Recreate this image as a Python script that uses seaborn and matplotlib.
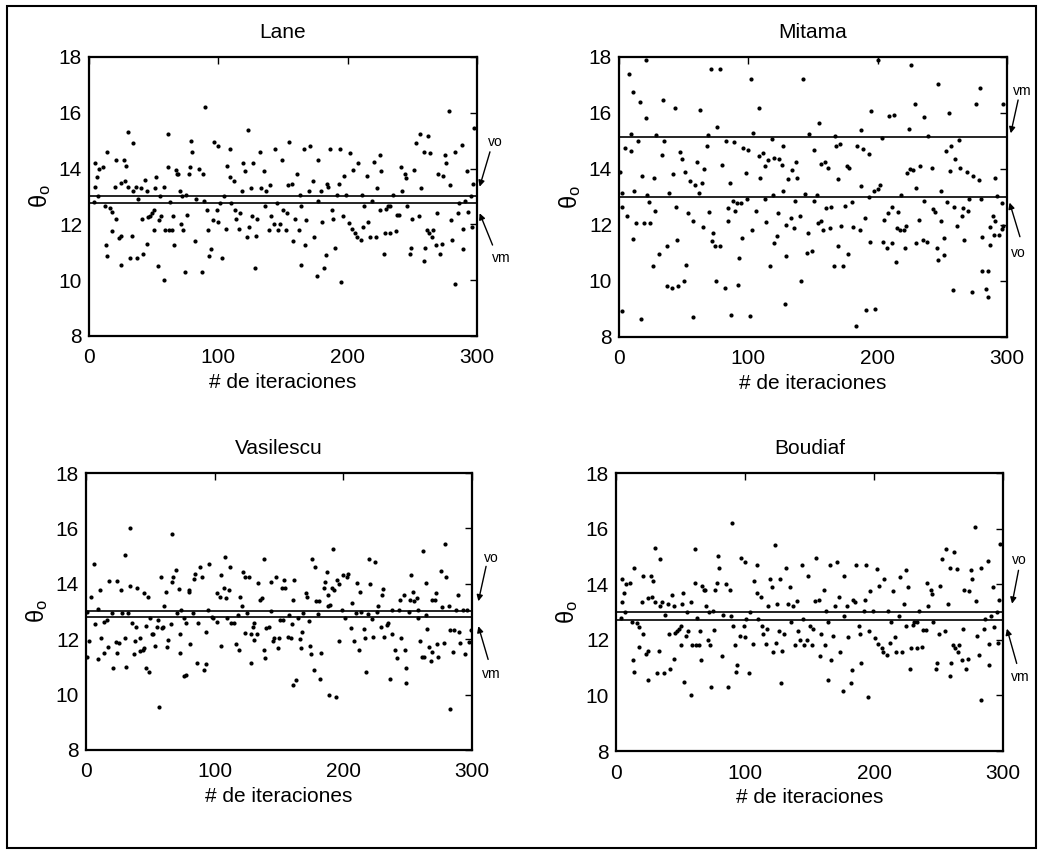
import matplotlib
matplotlib.use("Agg")
import matplotlib.pyplot as plt
from matplotlib.patches import Rectangle
import seaborn as sns
import pandas as pd

# ---------------------------------------------------------------------------
# Data: estimated angle theta_o at each iteration for every method
# ---------------------------------------------------------------------------
lane_iter = [
    5, 6, 5, 4, 7, 8, 11, 12, 13, 14,
    14, 16, 18, 18, 20, 21, 21, 23, 25, 25,
    25, 27, 28, 29, 30, 30, 32, 33, 34, 34,
    36, 37, 38, 40, 41, 42, 43, 45, 45, 46,
    47, 49, 50, 50, 51, 52, 53, 54, 55, 56,
    58, 58, 59, 61, 61, 62, 63, 64, 65, 66,
    67, 68, 69, 70, 71, 72, 73, 74, 75, 76,
    77, 78, 79, 80, 82, 83, 85, 87, 88, 89,
    90, 91, 92, 93, 94, 96, 97, 99, 100, 100,
    101, 103, 104, 106, 107, 109, 109, 110, 112, 113,
    114, 116, 117, 118, 119, 121, 122, 123, 124, 125,
    126, 127, 128, 129, 130, 132, 133, 135, 136, 137,
    139, 140, 141, 143, 144, 145, 146, 148, 149, 150,
    152, 153, 154, 155, 157, 158, 159, 161, 162, 163,
    164, 164, 166, 167, 168, 170, 171, 173, 174, 176,
    177, 177, 179, 180, 182, 183, 184, 185, 186, 188,
    189, 190, 192, 193, 194, 195, 196, 197, 199, 201,
    202, 203, 204, 206, 207, 208, 210, 211, 212, 213,
    215, 216, 217, 219, 220, 222, 223, 225, 225, 226,
    228, 229, 230, 231, 233, 233, 235, 237, 238, 240,
    241, 242, 244, 245, 246, 248, 249, 250, 251, 253,
    255, 256, 257, 259, 259, 260, 261, 262, 263, 264,
    265, 266, 268, 269, 270, 271, 273, 274, 275, 276,
    278, 279, 280, 281, 283, 283, 285, 286, 288, 289,
    289, 291, 292, 293, 295, 296, 297, 298,
]
lane_theta = [
    14.2, 13.7, 13.35, 12.8, 13.0, 14.0, 14.05, 12.65, 11.26, 14.6,
    10.85, 12.6, 12.45, 11.75, 13.35, 12.2, 14.3, 11.5, 11.6, 13.5,
    10.55, 14.3, 13.55, 14.1, 15.3, 13.35, 10.8, 11.6, 14.9, 13.2,
    13.35, 10.8, 12.9, 13.3, 12.2, 10.95, 13.6, 13.2, 11.3, 12.25,
    12.3, 12.4, 12.5, 11.8, 13.3, 13.7, 10.5, 12.15, 13.0, 12.3,
    10.0, 13.35, 11.8, 15.25, 14.05, 11.8, 12.8, 11.8, 12.3, 11.26,
    13.95, 13.8, 13.8, 13.2, 12.0, 13.0, 11.8, 10.3, 13.05, 12.35,
    13.8, 14.05, 15.0, 14.6, 11.4, 12.9, 14.0, 10.3, 13.8, 12.85,
    16.2, 12.5, 11.8, 10.85, 11.1, 12.15, 14.95, 12.5, 14.8, 12.1,
    12.75, 10.8, 13.0, 11.85, 14.1, 14.7, 13.7, 12.75, 13.55, 12.5,
    12.2, 11.85, 12.4, 13.2, 14.2, 13.9, 11.55, 15.4, 11.9, 13.3,
    12.3, 14.2, 10.45, 11.6, 12.2, 14.6, 13.3, 13.9, 12.65, 13.2,
    11.8, 13.4, 12.3, 12.0, 14.7, 12.75, 11.8, 12.0, 14.3, 12.5,
    11.8, 12.4, 13.4, 14.95, 13.45, 11.4, 12.2, 13.8, 11.8, 13.05,
    10.55, 12.65, 14.7, 11.26, 12.15, 13.2, 14.8, 13.55, 11.55, 10.15,
    14.3, 12.85, 13.2, 12.1, 10.45, 10.9, 13.45, 13.35, 14.7, 12.5,
    12.2, 11.15, 13.05, 13.45, 14.7, 9.95, 12.3, 13.75, 13.05, 12.05,
    14.55, 11.85, 13.95, 11.7, 11.55, 14.2, 11.45, 13.05, 11.9, 12.65,
    13.75, 12.1, 11.55, 12.85, 14.25, 11.55, 13.3, 14.5, 12.5, 13.9,
    10.95, 11.7, 12.55, 12.65, 12.65, 11.7, 13.05, 11.75, 12.35, 12.35,
    14.05, 13.2, 13.8, 13.65, 12.65, 10.95, 11.15, 12.2, 13.95, 14.9,
    12.3, 15.25, 13.3, 10.7, 14.6, 11.15, 11.8, 15.15, 11.7, 14.55,
    11.55, 11.8, 11.26, 12.4, 13.8, 10.95, 11.3, 13.75, 14.5, 14.2,
    16.05, 13.4, 12.15, 11.45, 14.6, 9.85, 12.4, 12.75, 14.85, 11.85,
    11.1, 12.85, 13.9, 12.45, 13.0, 11.9, 13.45, 15.45,
]

mitama_iter = [
    2, 2, 2, 1, 5, 6, 8, 9, 9, 11,
    11, 12, 13, 15, 16, 17, 18, 19, 21, 21,
    22, 23, 24, 26, 27, 28, 29, 31, 33, 34,
    35, 37, 37, 39, 41, 42, 43, 44, 45, 46,
    47, 49, 50, 51, 52, 53, 55, 57, 57, 59,
    60, 62, 63, 64, 65, 66, 68, 69, 70, 71,
    72, 73, 74, 75, 76, 78, 78, 80, 82, 83,
    84, 84, 86, 87, 88, 89, 90, 91, 92, 93,
    94, 95, 96, 98, 99, 100, 101, 102, 103, 104,
    106, 108, 108, 109, 111, 113, 113, 114, 115, 117,
    118, 119, 120, 120, 122, 123, 124, 126, 127, 127,
    128, 129, 129, 131, 133, 134, 135, 136, 137, 138,
    140, 141, 142, 144, 145, 146, 147, 149, 151, 151,
    153, 154, 155, 156, 156, 158, 159, 160, 162, 163,
    164, 166, 167, 168, 169, 169, 171, 172, 173, 175,
    176, 177, 178, 180, 181, 183, 184, 186, 187, 187,
    189, 190, 191, 193, 193, 194, 195, 197, 198, 200,
    200, 202, 203, 204, 205, 207, 208, 209, 211, 211,
    213, 214, 215, 216, 217, 218, 220, 221, 222, 223,
    224, 225, 226, 227, 229, 230, 230, 232, 233, 235,
    236, 236, 238, 239, 242, 243, 244, 246, 247, 247,
    249, 249, 251, 251, 253, 254, 255, 256, 257, 258,
    259, 260, 261, 263, 264, 265, 266, 267, 269, 270,
    271, 273, 274, 276, 278, 279, 280, 281, 281, 284,
    285, 285, 287, 287, 289, 290, 291, 291, 292, 294,
    296, 296, 297, 297,
]
mitama_theta = [
    13.13, 12.65, 8.9, 13.87, 14.74, 12.3, 17.4, 15.25, 14.62, 16.73,
    11.5, 13.2, 12.05, 15.0, 16.4, 8.62, 13.75, 12.05, 15.8, 17.9,
    13.07, 12.8, 12.05, 10.53, 13.67, 12.5, 15.22, 10.96, 14.5, 16.45,
    14.98, 11.25, 9.8, 13.13, 9.73, 13.8, 16.17, 12.65, 11.44, 9.81,
    14.59, 14.35, 9.97, 13.87, 10.57, 12.41, 13.55, 12.12, 8.69, 13.43,
    14.24, 13.15, 16.1, 13.49, 11.91, 14.0, 14.8, 15.22, 12.44, 17.58,
    11.4, 11.7, 11.22, 9.97, 15.5, 11.22, 17.58, 14.15, 9.73, 15.0,
    12.6, 12.12, 13.49, 8.78, 12.83, 14.95, 12.5, 12.77, 9.85, 10.8,
    12.77, 11.52, 14.74, 13.85, 12.92, 14.66, 8.74, 17.22, 11.82, 15.28,
    12.5, 14.44, 16.17, 13.67, 14.56, 12.92, 14.09, 12.08, 14.32, 10.53,
    15.06, 13.07, 14.38, 11.34, 11.58, 12.41, 14.35, 14.15, 13.19, 14.8,
    9.17, 12.0, 10.89, 13.63, 12.24, 13.97, 11.88, 12.83, 14.23, 13.67,
    12.32, 10.0, 17.22, 13.1, 10.99, 11.7, 15.26, 11.06, 14.66, 12.83,
    13.07, 12.06, 15.64, 14.18, 12.12, 11.82, 14.23, 12.6, 14.03, 11.88,
    12.65, 10.53, 15.18, 14.83, 11.25, 13.63, 14.9, 11.94, 10.53, 12.68,
    14.11, 10.96, 14.03, 12.8, 11.91, 8.36, 14.8, 11.82, 15.37, 13.37,
    14.7, 12.24, 8.95, 14.54, 13.0, 11.37, 16.05, 13.19, 9.0, 13.27,
    17.88, 13.43, 15.1, 11.37, 12.18, 11.18, 12.41, 15.9, 11.34, 12.65,
    15.94, 10.68, 11.88, 12.47, 11.8, 13.07, 11.82, 11.18, 11.94, 13.85,
    15.42, 13.99, 17.73, 13.97, 16.33, 13.31, 11.34, 12.15, 14.11, 11.46,
    12.83, 15.85, 11.37, 15.18, 14.03, 12.56, 12.47, 11.15, 17.05, 10.74,
    13.19, 12.12, 10.92, 11.52, 14.62, 12.8, 16.0, 13.91, 14.8, 9.67,
    12.65, 14.35, 11.96, 15.02, 14.03, 12.32, 12.6, 11.44, 13.87, 12.5,
    12.92, 9.58, 13.75, 16.33, 13.6, 16.89, 12.92, 11.56, 10.33, 9.69,
    10.36, 9.43, 11.91, 11.28, 12.32, 11.64, 13.67, 12.12, 13.04, 11.64,
    11.84, 12.77, 16.33, 11.94,
]

vasil_iter = [
    1, 1, 2, 4, 6, 7, 9, 9, 11, 12,
    14, 14, 16, 17, 18, 20, 21, 23, 24, 24,
    26, 27, 28, 30, 30, 31, 33, 34, 34, 36,
    37, 38, 39, 40, 42, 42, 44, 45, 45, 47,
    47, 48, 49, 50, 51, 52, 54, 55, 56, 57,
    58, 59, 60, 61, 62, 63, 64, 66, 67, 67,
    68, 70, 71, 72, 73, 73, 74, 76, 76, 78,
    78, 80, 80, 81, 83, 84, 85, 86, 87, 89,
    90, 92, 93, 93, 95, 96, 98, 99, 102, 102,
    104, 105, 105, 107, 108, 109, 110, 111, 112, 113,
    115, 117, 118, 119, 120, 121, 122, 124, 124, 125,
    127, 128, 128, 130, 131, 131, 133, 134, 135, 137,
    138, 138, 139, 140, 142, 144, 144, 145, 146, 148,
    149, 150, 151, 152, 153, 154, 155, 157, 158, 159,
    160, 161, 161, 162, 163, 165, 166, 167, 168, 169,
    171, 172, 173, 174, 175, 176, 177, 178, 179, 180,
    181, 182, 183, 185, 186, 187, 188, 188, 189, 190,
    191, 192, 193, 194, 195, 197, 197, 199, 200, 201,
    203, 204, 206, 207, 208, 210, 211, 212, 213, 214,
    216, 217, 218, 219, 220, 221, 222, 223, 225, 226,
    227, 229, 230, 231, 232, 234, 235, 236, 238, 238,
    240, 242, 243, 244, 245, 247, 248, 249, 249, 251,
    252, 253, 254, 255, 257, 258, 258, 260, 261, 262,
    263, 264, 264, 265, 267, 268, 269, 269, 271, 272,
    273, 274, 276, 277, 278, 279, 280, 282, 283, 283,
    285, 286, 288, 289, 290, 291, 293, 295, 296, 298,
    299,
]
vasil_theta = [
    12.99, 11.37, 11.94, 13.53, 14.73, 12.54, 13.1, 11.27, 13.77, 12.06,
    12.63, 11.51, 12.69, 11.73, 14.1, 12.95, 10.95, 11.91, 14.1, 11.49,
    11.87, 13.77, 12.95, 12.06, 15.03, 10.98, 12.95, 16.03, 13.91, 12.57,
    11.46, 11.94, 12.45, 13.84, 11.58, 12.06, 11.61, 13.65, 11.67, 12.47,
    10.95, 13.53, 10.82, 12.75, 12.2, 12.2, 11.75, 12.45, 12.69, 9.54,
    14.25, 12.39, 12.45, 13.19, 13.71, 11.73, 11.97, 12.54, 14.07, 15.81,
    14.25, 14.51, 12.95, 13.83, 12.18, 11.51, 13.05, 12.75, 10.67, 10.7,
    12.57, 13.71, 13.79, 11.82, 12.93, 14.19, 14.37, 11.15, 12.57, 14.59,
    14.25, 10.88, 12.27, 11.1, 13.05, 14.73, 12.81, 12.75, 12.63, 13.65,
    13.53, 14.31, 11.75, 13.86, 14.97, 13.47, 12.78, 13.77, 14.61, 12.57,
    12.59, 11.82, 12.87, 11.61, 13.53, 13.19, 14.43, 12.23, 14.25, 12.95,
    14.25, 12.18, 11.15, 12.45, 12.59, 11.97, 12.2, 14.03, 13.41, 13.47,
    11.61, 14.91, 11.31, 12.42, 12.45, 14.07, 13.02, 11.94, 12.03, 14.25,
    11.67, 12.06, 12.69, 13.86, 12.69, 14.12, 13.86, 12.08, 12.87, 12.03,
    12.54, 13.41, 10.34, 14.12, 10.52, 12.75, 12.0, 11.7, 12.27, 12.95,
    13.67, 13.53, 12.66, 11.75, 11.46, 14.91, 10.88, 14.61, 13.38, 12.9,
    13.38, 10.58, 11.51, 13.86, 14.07, 14.43, 13.59, 13.19, 9.98, 13.23,
    13.86, 15.27, 13.79, 9.92, 14.15, 11.94, 14.0, 13.05, 14.31, 12.75,
    14.25, 14.37, 12.42, 13.29, 11.94, 12.95, 14.03, 11.61, 13.71, 12.99,
    12.35, 12.03, 10.82, 12.9, 14.91, 14.0, 12.72, 12.08, 14.79, 12.99,
    13.19, 12.45, 13.59, 13.83, 12.08, 12.51, 12.59, 10.58, 12.2, 13.05,
    11.61, 11.31, 13.07, 13.41, 12.03, 13.59, 11.61, 10.95, 10.43, 12.99,
    13.41, 14.31, 13.71, 13.38, 13.47, 13.05, 12.75, 11.94, 11.37, 15.19,
    11.34, 12.87, 14.03, 12.35, 11.73, 11.22, 13.41, 11.55, 13.41, 13.65,
    11.82, 11.37, 14.46, 13.17, 11.87, 15.45, 14.25, 13.19, 12.33, 9.47,
    11.55, 12.33, 13.05, 13.59, 12.27, 11.87, 13.05, 11.46, 13.07, 11.91,
    12.33,
]

# Boudiaf produces the same sequence as Lane
boudiaf_iter = list(lane_iter)
boudiaf_theta = list(lane_theta)

methods = ["Lane", "Mitama", "Vasilescu", "Boudiaf"]
iterations = [lane_iter, mitama_iter, vasil_iter, boudiaf_iter]
thetas = [lane_theta, mitama_theta, vasil_theta, boudiaf_theta]

# reference levels drawn as horizontal lines (vo, vm)
vo_levels = [13.0, 13.0, 13.0, 13.0]
vm_levels = [12.75, 15.12, 12.8, 12.73]

# ---------------------------------------------------------------------------
# Style
# ---------------------------------------------------------------------------
sns.set_style("white")
plt.rcParams["font.family"] = ["Liberation Sans", "DejaVu Sans"]
plt.rcParams["text.color"] = "black"
plt.rcParams["axes.labelcolor"] = "black"
plt.rcParams["xtick.color"] = "black"
plt.rcParams["ytick.color"] = "black"

fig = plt.figure(figsize=(10.42, 8.58), dpi=100)

axes_rects = [
    [0.0854, 0.6084, 0.3724, 0.3252],
    [0.5940, 0.6078, 0.3724, 0.3258],
    [0.0825, 0.1259, 0.3704, 0.3228],
    [0.5912, 0.1247, 0.3714, 0.3240],
]

# label/arrow placement for the vo / vm callouts: (text xy, arrow start, arrow tip)
callouts = [
    {"vo": ((314, 14.95), (310, 14.6), (302, 13.35)),
     "vm": ((319, 10.8), (312, 11.26), (302, 12.4))},
    {"vm": ((312, 16.8), (308.6, 16.46), (302.9, 15.27)),
     "vo": ((308.6, 11.0), (310, 11.57), (302, 12.79))},
    {"vo": ((315, 14.93), (311, 14.63), (305, 13.37)),
     "vm": ((315, 10.73), (312.6, 11.27), (305, 12.47))},
    {"vo": ((313, 14.87), (312, 14.5), (307, 13.3)),
     "vm": ((313, 10.67), (310.6, 11.15), (303, 12.4))},
]

for name, its, th, vo, vm, rect, co in zip(
        methods, iterations, thetas, vo_levels, vm_levels, axes_rects, callouts):
    ax = fig.add_axes(rect)
    df = pd.DataFrame({"iteracion": its, "theta": th})
    sns.scatterplot(data=df, x="iteracion", y="theta", ax=ax, color="black",
                    s=9, marker="o", linewidth=0, legend=False)
    ax.axhline(vo, color="black", lw=1.2)
    ax.axhline(vm, color="black", lw=1.2)

    ax.set_xlim(0, 300)
    ax.set_ylim(8, 18)
    ax.set_xticks([0, 100, 200, 300])
    ax.set_yticks([8, 10, 12, 14, 16, 18])
    ax.tick_params(direction="in", top=True, right=True, length=5, width=1,
                   labelsize=15, colors="black")
    ax.tick_params(axis="x", pad=9)
    ax.tick_params(axis="y", pad=5)
    for sp in ax.spines.values():
        sp.set_linewidth(1.6)
        sp.set_color("black")

    ax.set_title(name, fontsize=15, pad=14, color="black")
    ax.set_xlabel("# de iteraciones", fontsize=15, labelpad=4, color="black")
    ax.set_ylabel(r"$\mathregular{θ_o}$", fontsize=17, labelpad=4,
                  color="black")

    for key, (txt_xy, start, tip) in co.items():
        ax.text(txt_xy[0], txt_xy[1], key, fontsize=10, ha="center",
                va="center", clip_on=False, color="black")
        ax.annotate("", xy=tip, xytext=start, annotation_clip=False,
                    arrowprops=dict(arrowstyle="-|>", color="black", lw=1.0,
                                    mutation_scale=9, shrinkA=0, shrinkB=0))

# page frame around the whole figure
fig.add_artist(Rectangle((0.0067, 0.0117), 0.9875, 0.9813,
                         transform=fig.transFigure, fill=False,
                         lw=1.5, edgecolor="black"))

fig.savefig("out.png", dpi=100)
